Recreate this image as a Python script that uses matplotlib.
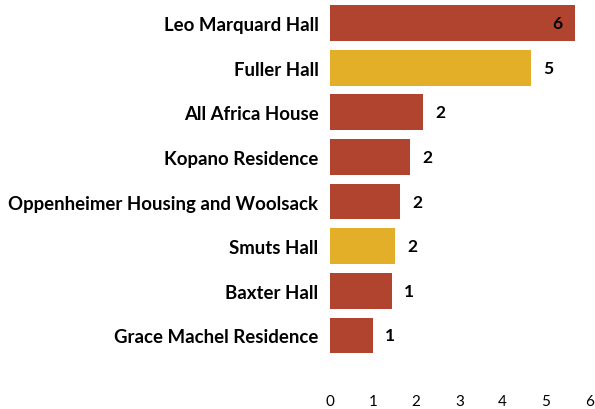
import matplotlib
matplotlib.use("Agg")
import matplotlib.pyplot as plt

# residences and their (unrounded) counts, top to bottom
halls = ["Leo Marquard Hall", "Fuller Hall", "All Africa House", "Kopano Residence",
         "Oppenheimer Housing and Woolsack", "Smuts Hall", "Baxter Hall",
         "Grace Machel Residence"]
counts = [5.67, 4.66, 2.16, 1.87, 1.63, 1.51, 1.44, 1.01]
highlight = [False, True, False, False, False, True, False, False]
xticks = [0, 1, 2, 3, 4, 5, 6]

red = "#B0442F"
gold = "#E3AF28"

plt.rcParams["font.family"] = ["Lato", "DejaVu Sans"]

fig = plt.figure(figsize=(5.95, 4.1), dpi=100)
ax = fig.add_axes([0.5538, 0.049, 0.4366, 0.951])

ypos = list(range(len(halls)))
colors = [gold if h else red for h in highlight]
ax.barh(ypos, counts, height=0.8, color=colors, edgecolor="none")

for y, v in zip(ypos, counts):
    lab = str(int(round(v)))
    if v > 5:
        ax.text(v - 0.3, y, lab, ha="right", va="center", fontsize=12.5,
                fontweight="bold", color="black")
    else:
        ax.text(v + 0.28, y, lab, ha="left", va="center", fontsize=12.5,
                fontweight="bold", color="black")

ax.set_xlim(0, 6)
ax.set_ylim(8.2, -0.54)
ax.set_xticks(xticks)
ax.set_xticklabels([str(t) for t in xticks], fontsize=11)
ax.set_yticks(ypos)
ax.set_yticklabels(halls, fontsize=13.4, fontweight="bold")
ax.tick_params(axis="both", length=0)
ax.tick_params(axis="y", pad=8)
ax.tick_params(axis="x", pad=4)
for s in ax.spines.values():
    s.set_visible(False)

fig.savefig("out.png", dpi=100)
